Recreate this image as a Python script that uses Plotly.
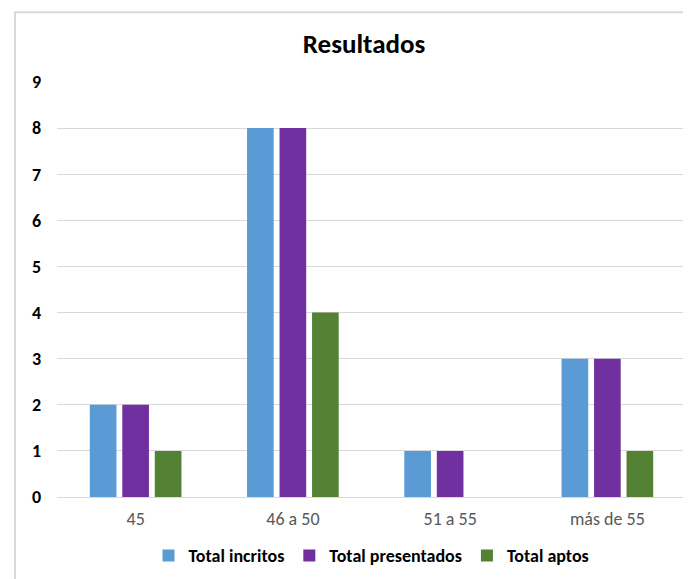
import plotly.graph_objects as go

categories = ["45", "46 a 50", "51 a 55", "más de 55"]
inscritos = [2, 8, 1, 3]
presentados = [2, 8, 1, 3]
aptos = [1, 4, 0, 1]
series_names = ["Total incritos", "Total presentados", "Total aptos"]
colors = ["#5B9BD5", "#7030A0", "#548235"]

fig = go.Figure()
for name, vals, col in zip(series_names, [inscritos, presentados, aptos], colors):
    fig.add_trace(go.Bar(x=categories, y=vals, name=name, marker_color=col,
                         marker_line_width=0))

FONT = "Carlito, Lato, sans-serif"
fig.update_layout(
    width=683, height=571,
    margin=dict(l=49, r=5, t=74, b=80),
    paper_bgcolor="white", plot_bgcolor="white",
    font=dict(family=FONT, size=18, color="#000"),
    title=dict(text="<b>Resultados</b>", x=356/683, xanchor="center", xref="container",
               y=1 - 36/571, yanchor="middle", yref="container",
               font=dict(size=27, color="#000", family=FONT)),
    barmode="group", bargap=0.38, bargroupgap=0.18,
    legend=dict(orientation="h", x=0.5, xanchor="center", y=(499-558)/417, yanchor="middle",
                font=dict(size=18, color="#000", family=FONT, weight="bold"),
                itemwidth=30, traceorder="normal"),
    showlegend=True,
)
fig.update_yaxes(range=[0, 9], dtick=1, showgrid=True, gridcolor="#D9D9D9", gridwidth=1,
                 zeroline=False, showline=False,
                 tickfont=dict(size=18, color="#000", family=FONT, weight="bold"),
                 ticklabelstandoff=15, fixedrange=True)
fig.update_xaxes(showline=True, linecolor="#D9D9D9", linewidth=1, showgrid=False,
                 tickfont=dict(size=18, color="#595959", family=FONT), ticklabelstandoff=5)

fig.add_shape(type="rect", xref="paper", yref="paper",
              x0=(15-57)/629, x1=1.05, y0=-0.3, y1=(499-12)/417,
              line=dict(color="#D9D9D9", width=2), fillcolor="rgba(0,0,0,0)", layer="below")

fig.write_html("out.html")
